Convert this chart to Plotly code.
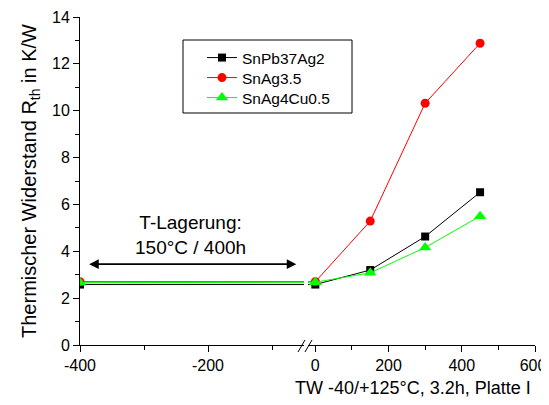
import plotly.graph_objects as go

x_vals = [-400, 0, 150, 300, 450]
series_names = ["SnPb37Ag2", "SnAg3.5", "SnAg4Cu0.5"]
snpb = [2.58, 2.58, 3.2, 4.63, 6.52]
snag = [2.7, 2.7, 5.29, 10.32, 12.88]
snagcu = [2.66, 2.68, 3.08, 4.16, 5.5]
y_ticks = [0, 2, 4, 6, 8, 10, 12, 14]
x_left_ticks = [-400, -200]
x_right_ticks = [0, 200, 400, 600]

colors = ["black", "red", "#00ff00"]
symbols = ["square", "circle", "triangle-up"]
sizes = [8, 9, 11]
data = [snpb, snag, snagcu]
legend_ids = ["legend", "legend2", "legend3"]

fig = go.Figure()
for ax in ["x", "x2"]:
    for name, ys, c, s, sz, lg in zip(series_names, data, colors, symbols, sizes, legend_ids):
        fig.add_trace(go.Scatter(
            x=x_vals, y=ys, name=name, xaxis=ax, yaxis="y",
            mode="lines+markers",
            line=dict(color=c, width=1),
            marker=dict(symbol=s, size=sz, color=c),
            showlegend=(ax == "x"), legend=lg,
        ))
# empty helper trace so the overlay axis for the last tick label is drawn
fig.add_trace(go.Scatter(x=[], y=[], xaxis="x3", yaxis="y", showlegend=False,
                         hoverinfo="skip"))

font = "Liberation Sans, Arial, sans-serif"
OFF = 8  # page body margin in the browser
FW, FH = 549 - OFF, 405 - 2 * OFF
# desired plot area in window pixels
L, R, T, B = 80, 535, 17, 345
W, H = R - L, B - T
def px(xp):
    return (xp - L) / W
def py(yp):
    return (B - yp) / H

split_l = px(304)
split_r = px(308)

axis_common = dict(showline=True, linecolor="black", linewidth=1,
                   ticks="outside", ticklen=6, tickcolor="black", showgrid=False,
                   zeroline=False, automargin=False, tickfont=dict(size=16))

legend_style = dict(xanchor="left", yanchor="middle", borderwidth=0,
                    bgcolor="rgba(0,0,0,0)", font=dict(size=15.5))
legend_rows = [58, 78, 98]

fig.update_layout(
    width=FW, height=FH,
    margin=dict(l=L - OFF, r=549 - R, t=T - OFF, b=405 - OFF - B, pad=0),
    paper_bgcolor="white", plot_bgcolor="white",
    font=dict(family=font, size=16, color="black"),
    showlegend=True,
    legend=dict(x=px(202), y=py(legend_rows[0]), **legend_style),
    legend2=dict(x=px(202), y=py(legend_rows[1]), **legend_style),
    legend3=dict(x=px(202), y=py(legend_rows[2]), **legend_style),
    xaxis=dict(domain=[0, split_l], range=[-400, -50], tickvals=x_left_ticks,
               ticktext=[str(v) for v in x_left_ticks],
               minor=dict(tickvals=[-300, -100], ticks="outside", ticklen=4, tickcolor="black"),
               **axis_common),
    xaxis2=dict(domain=[split_r, 1], range=[-20, 600], tickvals=x_right_ticks,
                ticktext=[str(v) for v in x_right_ticks[:-1]] + [""],
                minor=dict(dtick=100, ticks="outside", ticklen=4, tickcolor="black"),
                **axis_common),
    xaxis3=dict(overlaying="x2", range=[-20, 600], tickvals=x_right_ticks[-1:],
                ticktext=[str(x_right_ticks[-1])], ticklabelshift=-2,
                showline=False, ticks="outside", ticklen=6,
                tickcolor="rgba(0,0,0,0)", showgrid=False, zeroline=False,
                automargin=False, tickfont=dict(size=16), anchor="y", side="bottom"),
    yaxis=dict(range=[0, 14], tickvals=y_ticks,
               minor=dict(dtick=1, ticks="outside", ticklen=4, tickcolor="black"),
               title=dict(text="Thermischer Widerstand R<sub>th</sub> in K/W",
                          font=dict(size=20), standoff=10),
               **axis_common),
)

# legend frame
fig.add_shape(type="rect", xref="paper", yref="paper",
              x0=px(183), x1=px(352), y0=py(113), y1=py(40),
              line=dict(color="black", width=1), fillcolor="white", layer="above")

# double-headed arrow
fig.add_annotation(x=-62, y=3.45, ax=-388, ay=3.45, xref="x", yref="y",
                   axref="x", ayref="y", showarrow=True, arrowhead=2,
                   arrowside="end+start", arrowwidth=1.6, arrowsize=1.2,
                   arrowcolor="black", text="")
fig.add_annotation(x=-228, y=4.69, xref="x", yref="y", showarrow=False,
                   text="T-Lagerung:<br>150°C / 400h", font=dict(size=19),
                   align="center")
fig.add_annotation(x=px(413), y=py(388), xref="paper", yref="paper", xanchor="center",
                   yanchor="middle", showarrow=False,
                   text="TW -40/+125°C, 3.2h, Platte I", font=dict(size=18))
# axis break marks
for x0 in [298, 305]:
    fig.add_shape(type="line", xref="paper", yref="paper",
                  x0=px(x0), x1=px(x0 + 7), y0=py(352), y1=py(340),
                  line=dict(color="black", width=1))
fig.write_html("out.html")
